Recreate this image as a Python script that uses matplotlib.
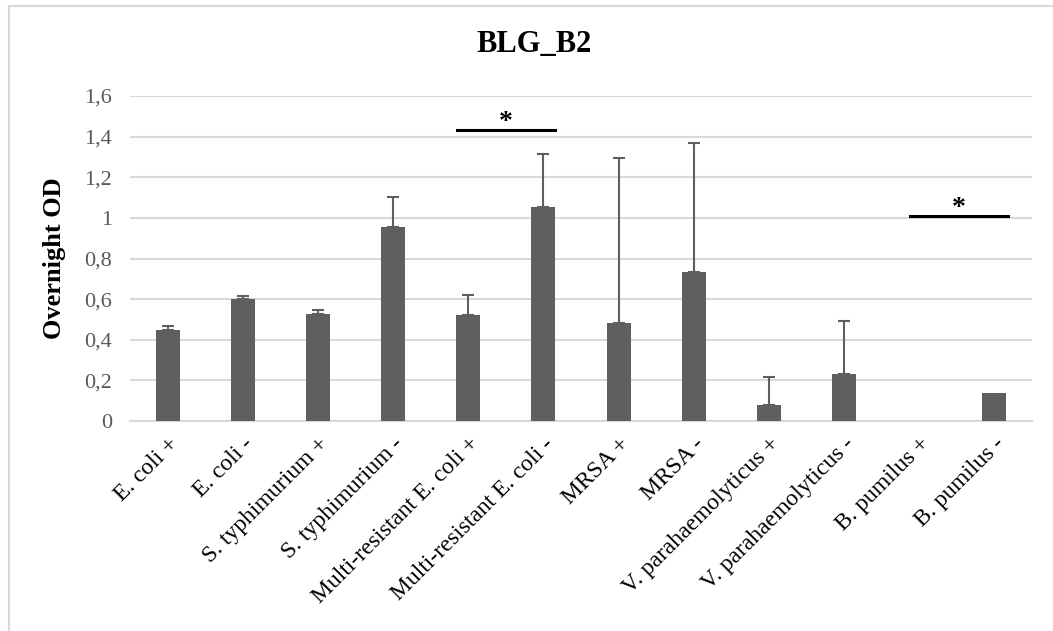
import numpy as np
import matplotlib.pyplot as plt
from matplotlib.lines import Line2D
from matplotlib.ticker import FuncFormatter

categories = ["E. coli +", "E. coli -", "S. typhimurium +", "S. typhimurium -",
              "Multi-resistant E. coli +", "Multi-resistant E. coli -",
              "MRSA +", "MRSA -", "V. parahaemolyticus +", "V. parahaemolyticus -",
              "B. pumilus +", "B. pumilus -"]
means = [0.448, 0.600, 0.527, 0.956, 0.524, 1.056, 0.481, 0.733, 0.079, 0.231, 0.0, 0.136]
upper_err = [0.021, 0.016, 0.020, 0.149, 0.096, 0.259, 0.813, 0.635, 0.136, 0.263, 0.0, 0.0]

# significance brackets: (start, end, height)
sig_bars = [(3.85, 5.16, 1.433), (9.88, 11.18, 1.01)]

plt.rcParams['font.family'] = ['Liberation Serif', 'DejaVu Serif']

W, H = 1053, 631
fig = plt.figure(figsize=(W / 100, H / 100), dpi=100)
ax = fig.add_axes([130 / W, 1 - 421 / H, 902 / W, 325 / H])

x = np.arange(len(categories))
ax.bar(x, means, width=0.32, color='#5f5f5f', zorder=3)

has_err = [e > 0 for e in upper_err]
ex = x[has_err]
ey = np.array(means)[has_err]
ee = np.array(upper_err)[has_err]
ax.errorbar(ex, ey, yerr=[np.zeros(len(ee)), ee], fmt='none',
            ecolor='#5f5f5f', elinewidth=1.5, capsize=4.5, capthick=1.5, zorder=4)

ax.set_xlim(-0.5, len(categories) - 0.5)
ax.set_ylim(0, 1.6)
ax.set_yticks(np.arange(0, 1.61, 0.2))
ax.yaxis.set_major_formatter(FuncFormatter(
    lambda v, p: '0' if abs(v) < 1e-9 else ('1' if abs(v - 1) < 1e-9 else f'{v:.1f}'.replace('.', ','))))
ax.grid(axis='y', color='#d9d9d9', linewidth=1.5, zorder=0)
for s in ['top', 'right', 'left']:
    ax.spines[s].set_visible(False)
ax.spines['bottom'].set_color('#d9d9d9')
ax.spines['bottom'].set_linewidth(1.5)
ax.tick_params(axis='y', length=0, labelsize=16, labelcolor='#595959', pad=13)
ax.tick_params(axis='x', length=0, pad=9)
ax.set_xticks(x)
ax.set_xticklabels(categories, rotation=45, ha='right', rotation_mode='anchor',
                   color='#000000', fontsize=17)

for x0, x1, h in sig_bars:
    ax.plot([x0, x1], [h, h], color='black', linewidth=2.2, zorder=5, clip_on=False)
    ax.text((x0 + x1) / 2, h - 0.025, '*', ha='center', va='bottom', fontsize=20,
            fontweight='bold', color='black')

ax.set_ylabel('Overnight OD', fontsize=19, fontweight='bold', labelpad=13)
fig.text(534 / W, 1 - 45 / H, 'BLG_B2', ha='center', va='center',
         fontsize=22, fontweight='bold')

# chart border (top and left edges visible)
fig.lines.append(Line2D([9 / W, 1], [1 - 6 / H, 1 - 6 / H], transform=fig.transFigure,
                        color='#d9d9d9', linewidth=1.5))
fig.lines.append(Line2D([9 / W, 9 / W], [0, 1 - 6 / H], transform=fig.transFigure,
                        color='#d9d9d9', linewidth=1.5))

fig.savefig('out.png', dpi=100, facecolor='white')
